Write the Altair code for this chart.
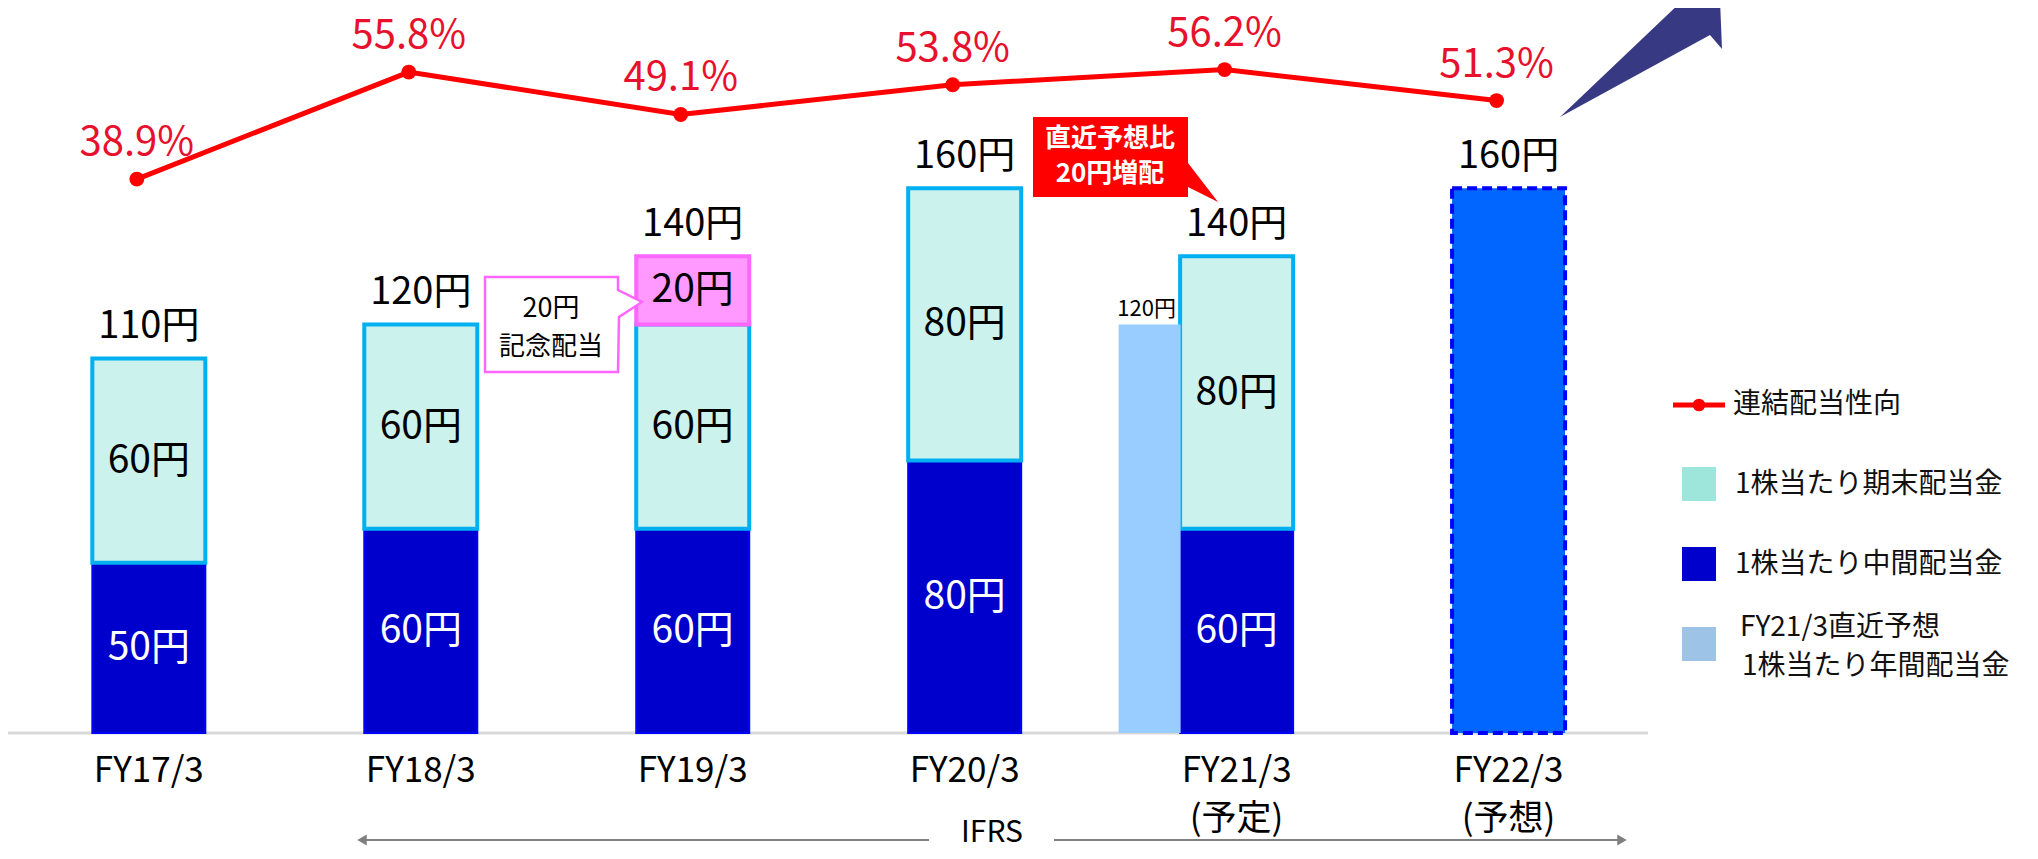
import altair as alt
import pandas as pd

# ---------------- data ----------------
years = ["FY17/3", "FY18/3", "FY19/3", "FY20/3", "FY21/3", "FY22/3"]
year_notes = ["", "", "", "", "(予定)", "(予想)"]
interim = [50, 60, 60, 80, 60]          # FY17/3 - FY21/3 中間配当
year_end = [60, 60, 60, 80, 80]         # FY17/3 - FY21/3 期末配当
commemorative = [0, 0, 20, 0, 0]        # 記念配当
fy22_forecast = [160]                   # FY22/3 予想 (annual)
fy21_prior_forecast = [120]             # FY21/3 直近予想
totals = [110, 120, 140, 160, 140, 160]
payout = [38.9, 55.8, 49.1, 53.8, 56.2, 51.3]

legend_labels = ["連結配当性向", "1株当たり期末配当金", "1株当たり中間配当金",
                 "FY21/3直近予想", "1株当たり年間配当金"]

FONT = "Noto Sans CJK JP"

# ---------------- geometry ----------------
W, H = 2022, 843
OX, OY = 8, 8


def cx(px):
    return px - OX


def cy(py):
    return py - OY


STEP = 273.3
x0 = -cx(144.5) / STEP
xs = alt.Scale(domain=[x0, x0 + W / STEP], nice=False, zero=False)

KB = 3.405
BASE = cy(733)
ybs = alt.Scale(domain=[(BASE - H) / KB, BASE / KB], nice=False, zero=False)

KP = 6.33
PZERO = cy(425.3)
yps = alt.Scale(domain=[(PZERO - H) / KP, PZERO / KP], nice=False, zero=False)

# ---------------- tables ----------------
rows = []
for i in range(len(interim)):
    a = interim[i]
    b = a + year_end[i]
    c = b + commemorative[i]
    rows.append(dict(i=i, part="interim", lo=0, hi=a, label=f"{interim[i]}円"))
    rows.append(dict(i=i, part="yearend", lo=a, hi=b, label=f"{year_end[i]}円"))
    if commemorative[i] > 0:
        rows.append(dict(i=i, part="comm", lo=b, hi=c, label=f"{commemorative[i]}円"))
rows.append(dict(i=5, part="forecast", lo=0, hi=fy22_forecast[0], label=""))
seg = pd.DataFrame(rows)
seg["mid"] = (seg["lo"] + seg["hi"]) / 2

tot = pd.DataFrame({"i": list(range(6)), "t": totals,
                    "label": [f"{v}円" for v in totals]})
prior = pd.DataFrame({"i": [4], "v": fy21_prior_forecast,
                      "label": [f"{fy21_prior_forecast[0]}円"]})
pay = pd.DataFrame({"i": list(range(6)), "p": payout,
                    "label": [f"{v:.1f}%" for v in payout]})
xl = pd.DataFrame({"i": list(range(6)), "y1": years, "y2": year_notes})

X = alt.X("i:Q", scale=xs, axis=None)


def seg_layer(part, **mk):
    return (alt.Chart(seg).transform_filter(f"datum.part=='{part}'")
            .mark_bar(width=113, **mk)
            .encode(x=X, y=alt.Y("lo:Q", scale=ybs, axis=None), y2="hi:Q"))


def seg_text(part, color):
    return (alt.Chart(seg).transform_filter(f"datum.part=='{part}'")
            .mark_text(font=FONT, fontSize=39, color=color, baseline="middle")
            .encode(x=X, y=alt.Y("mid:Q", scale=ybs, axis=None), text="label:N"))


one = pd.DataFrame({"k": [0]})


def rule(x1, x2, y1, y2, color, w):
    return alt.Chart(one).mark_rule(color=color, strokeWidth=w).encode(
        x=alt.value(cx(x1)), x2=alt.value(cx(x2)),
        y=alt.value(cy(y1)), y2=alt.value(cy(y2)))


def rect(x1, x2, y1, y2, fill):
    return alt.Chart(one).mark_rect(fill=fill).encode(
        x=alt.value(cx(x1)), x2=alt.value(cx(x2)),
        y=alt.value(cy(y1)), y2=alt.value(cy(y2)))


def txt(s, x, y, size, color="#000000", align="center", weight="normal"):
    return alt.Chart(one).mark_text(text=s, font=FONT, fontSize=size, color=color,
                                    align=align, baseline="middle",
                                    fontWeight=weight).encode(
        x=alt.value(cx(x)), y=alt.value(cy(y)))


def poly(pts):
    return "M" + " L".join(f"{cx(a):.1f},{cy(b):.1f}" for a, b in pts) + " Z"


def shape(path, fill, stroke=None, sw=0):
    kw = dict(shape=path, size=4, filled=True, fill=fill, opacity=1, fillOpacity=1)
    if stroke:
        kw.update(stroke=stroke, strokeWidth=sw, strokeOpacity=1)
    else:
        kw.update(strokeWidth=0)
    return alt.Chart(one).mark_point(**kw).encode(x=alt.value(0), y=alt.value(0))


def sym(x, y, shp, size, color):
    return alt.Chart(one).mark_point(shape=shp, size=size, filled=True, color=color,
                                     opacity=1).encode(
        x=alt.value(cx(x)), y=alt.value(cy(y)))


layers = []
# baseline
layers.append(rule(0, 1648, 733, 733, "#D9D9D9", 3))

# bars
layers.append(seg_layer("interim", fill="#0000CC", stroke="#0000FF", strokeWidth=2))
layers.append(seg_layer("yearend", fill="#CCF2EE", stroke="#00B0F0", strokeWidth=4))
layers.append(seg_layer("comm", fill="#FF99FF", stroke="#FF66FF", strokeWidth=4))
layers.append(seg_layer("forecast", fill="#0066FF", stroke="#0000FF", strokeWidth=4,
                        strokeDash=[10, 5]))
layers.append(alt.Chart(prior).mark_bar(width=62, xOffset=-87, fill="#99CCFF").encode(
    x=X, y=alt.Y("v:Q", scale=ybs, axis=None), y2=alt.datum(0)))

# segment labels
layers.append(seg_text("interim", "#FFFFFF"))
layers.append(seg_text("yearend", "#000000"))
layers.append(seg_text("comm", "#000000"))

# totals
layers.append(alt.Chart(tot).mark_text(font=FONT, fontSize=38, color="#000000",
                                       baseline="alphabetic", dy=-20).encode(
    x=X, y=alt.Y("t:Q", scale=ybs, axis=None), text="label:N"))
layers.append(alt.Chart(prior).mark_text(font=FONT, fontSize=22, color="#000000",
                                         baseline="alphabetic", dy=-8, xOffset=-90).encode(
    x=X, y=alt.Y("v:Q", scale=ybs, axis=None), text="label:N"))

# payout ratio line
YP = alt.Y("p:Q", scale=yps, axis=None)
layers.append(alt.Chart(pay).mark_line(color="#FF0000", strokeWidth=5, xOffset=-12).encode(x=X, y=YP))
layers.append(alt.Chart(pay).mark_point(filled=True, color="#FF0000", size=220, opacity=1,
                                        xOffset=-12).encode(x=X, y=YP))
layers.append(alt.Chart(pay).mark_text(font=FONT, fontSize=40, color="#E8112D",
                                       baseline="middle", dy=-36, xOffset=-12).encode(
    x=X, y=YP, text="label:N"))

# x labels
layers.append(alt.Chart(xl).mark_text(font=FONT, fontSize=35, color="#000000",
                                      baseline="middle").encode(
    x=X, y=alt.value(cy(771)), text="y1:N"))
layers.append(alt.Chart(xl).mark_text(font=FONT, fontSize=35, color="#000000",
                                      baseline="middle").encode(
    x=X, y=alt.value(cy(819)), text="y2:N"))

# commemorative callout
layers.append(shape(poly([(485, 277), (618, 277), (618, 290), (642, 302), (619, 317),
                          (618, 372), (485, 372)]), "#FFFFFF", "#FF66FF", 2.5))
layers.append(txt("20円", 551, 309, 27))
layers.append(txt("記念配当", 551, 347, 26))

# red callout
layers.append(shape(poly([(1033, 117), (1188, 117), (1188, 163), (1218, 202),
                          (1188, 187), (1188, 197), (1033, 197)]), "#FF0000"))
layers.append(txt("直近予想比", 1110, 139, 26, "#FFFFFF", weight="bold"))
layers.append(txt("20円増配", 1110, 174, 26, "#FFFFFF", weight="bold"))

# navy arrow
layers.append(shape(poly([(1560, 117), (1683, 0), (1720, 0), (1722, 49), (1710, 35)]),
                    "#373A82"))

# IFRS range arrow
layers.append(rule(362, 929, 840, 840, "#808080", 2))
layers.append(rule(1054, 1622, 840, 840, "#808080", 2))
layers.append(sym(362, 840, "triangle-left", 120, "#808080"))
layers.append(sym(1622, 840, "triangle-right", 120, "#808080"))
layers.append(txt("IFRS", 992, 833, 30))

# legend
layers.append(rule(1673, 1725, 405, 405, "#FF0000", 5))
layers.append(sym(1699, 405, "circle", 160, "#FF0000"))
layers.append(txt(legend_labels[0], 1733, 405, 28, "#111111", align="left"))
layers.append(rect(1682, 1716, 467, 501, "#9EE6DC"))
layers.append(txt(legend_labels[1], 1735, 485, 28, "#111111", align="left"))
layers.append(rect(1682, 1716, 547, 581, "#0000CC"))
layers.append(txt(legend_labels[2], 1735, 565, 28, "#111111", align="left"))
layers.append(rect(1682, 1716, 627, 661, "#9DC3E6"))
layers.append(txt(legend_labels[3], 1740, 628, 28, "#111111", align="left"))
layers.append(txt(legend_labels[4], 1742, 667, 28, "#111111", align="left"))

chart = (alt.layer(*layers)
         .resolve_scale(y="independent")
         .properties(width=W, height=H, padding=0,
                     autosize=alt.AutoSizeParams(type="none"),
                     background="#FFFFFF")
         .configure_view(strokeWidth=0))

chart.save("out.html", embed_options={"renderer": "svg", "actions": False})
